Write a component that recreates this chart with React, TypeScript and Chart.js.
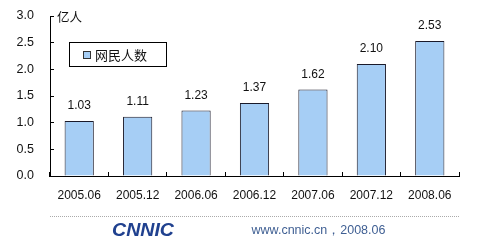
import React, { useEffect, useRef } from "react";
import { Chart, registerables } from "chart.js";

Chart.register(...registerables);

const categories = ["2005.06", "2005.12", "2006.06", "2006.12", "2007.06", "2007.12", "2008.06"];
const netizens = [1.03, 1.11, 1.23, 1.37, 1.62, 2.1, 2.53];
const seriesName = "网民人数";
const unitLabel = "亿人";
const yTicks = [0, 0.5, 1.0, 1.5, 2.0, 2.5, 3.0];
const footerSite = "www.cnnic.cn，2008.06";
const footerLogo = "CNNIC";

const LATIN = "'Liberation Sans', Arial, sans-serif";
const CJK = "'Noto Sans CJK SC', sans-serif";

const decorPlugin = {
  id: "decor",
  afterDatasetsDraw(chart: any) {
    const ctx = chart.ctx;
    const meta = chart.getDatasetMeta(0);
    ctx.save();
    ctx.fillStyle = "#111";
    ctx.font = `12px ${LATIN}`;
    ctx.textAlign = "center";
    ctx.textBaseline = "middle";
    meta.data.forEach((bar: any, i: number) => {
      ctx.fillText(netizens[i].toFixed(2), bar.x, bar.y - 15);
    });
    ctx.restore();
  },
  afterDraw(chart: any) {
    const ctx = chart.ctx;
    const area = chart.chartArea;
    ctx.save();
    // unit label
    ctx.fillStyle = "#111";
    ctx.font = `12.5px ${CJK}`;
    ctx.textAlign = "left";
    ctx.textBaseline = "middle";
    ctx.fillText(unitLabel, area.left + 7, 17);

    // legend box
    const lx = 69.5, ly = 42.5, lw = 97, lh = 24;
    ctx.fillStyle = "#fff";
    ctx.fillRect(lx, ly, lw, lh);
    ctx.strokeStyle = "#000";
    ctx.lineWidth = 1;
    ctx.strokeRect(lx, ly, lw, lh);
    ctx.fillStyle = "#a6cef5";
    ctx.fillRect(83.5, 51.5, 7, 7);
    ctx.strokeStyle = "#333";
    ctx.strokeRect(83.5, 51.5, 7, 7);
    ctx.fillStyle = "#111";
    ctx.font = `13px ${CJK}`;
    ctx.textBaseline = "middle";
    ctx.fillText(seriesName, 95, 55);

    // footer dotted line
    ctx.strokeStyle = "#aaa";
    ctx.setLineDash([1, 1]);
    ctx.beginPath();
    ctx.moveTo(area.left, 216.5);
    ctx.lineTo(area.right, 216.5);
    ctx.stroke();
    ctx.setLineDash([]);

    // logo
    ctx.font = `bold italic 18px ${LATIN}`;
    ctx.fillStyle = "#20418f";
    ctx.textAlign = "center";
    const w = ctx.measureText(footerLogo).width;
    ctx.translate(143, 231);
    ctx.scale(62 / w, 1);
    ctx.fillText(footerLogo, 0, 0);
    ctx.setTransform(1, 0, 0, 1, 0, 0);

    ctx.font = `12.5px ${LATIN}`;
    ctx.fillStyle = "#3f5f93";
    ctx.fillText(footerSite, 318.5, 231);
    ctx.restore();
  },
};

export default function App() {
  const ref = useRef<HTMLCanvasElement>(null);
  useEffect(() => {
    if (!ref.current) return;
    const chart = new Chart(ref.current, {
      type: "bar",
      data: {
        labels: categories,
        datasets: [
          {
            label: seriesName,
            data: netizens,
            backgroundColor: "#a6cef5",
            borderColor: "#1a1a2a",
            borderWidth: 1,
            barPercentage: 0.5,
            categoryPercentage: 1,
          },
        ],
      },
      options: {
        responsive: false,
        animation: false,
        layout: { padding: { left: 0, right: 21, top: 16, bottom: 41 } },
        plugins: { legend: { display: false }, tooltip: { enabled: false } },
        scales: {
          x: {
            offset: true,
            grid: { offset: true, drawOnChartArea: false, drawTicks: true, tickLength: -4, color: "#000" },
            border: { display: true, color: "#000", width: 1 },
            ticks: { color: "#111", font: { family: LATIN, size: 12 }, padding: 16, maxRotation: 0 },
            afterFit: (s: any) => {
              s.height = 30;
              s.paddingLeft = 0;
              s.paddingRight = 0;
            },
          },
          y: {
            min: 0,
            max: 3,
            afterBuildTicks: (s: any) => {
              s.ticks = yTicks.map((v) => ({ value: v }));
            },
            grid: { drawOnChartArea: false, drawTicks: true, tickLength: -4, color: "#000" },
            border: { display: true, color: "#000", width: 1 },
            ticks: {
              color: "#111",
              font: { family: LATIN, size: 12.5 },
              padding: 20,
              callback: (v: any) => Number(v).toFixed(1),
            },
            afterFit: (s: any) => {
              s.width = 50;
              s.paddingTop = 0;
              s.paddingBottom = 0;
            },
          },
        },
      },
      plugins: [decorPlugin],
    });
    return () => chart.destroy();
  }, []);
  return (
    <div style={{ position: "fixed", left: 0, top: 0, width: 480, height: 247, background: "#fff" }}>
      <canvas ref={ref} width={480} height={247} style={{ display: "block" }} />
    </div>
  );
}
